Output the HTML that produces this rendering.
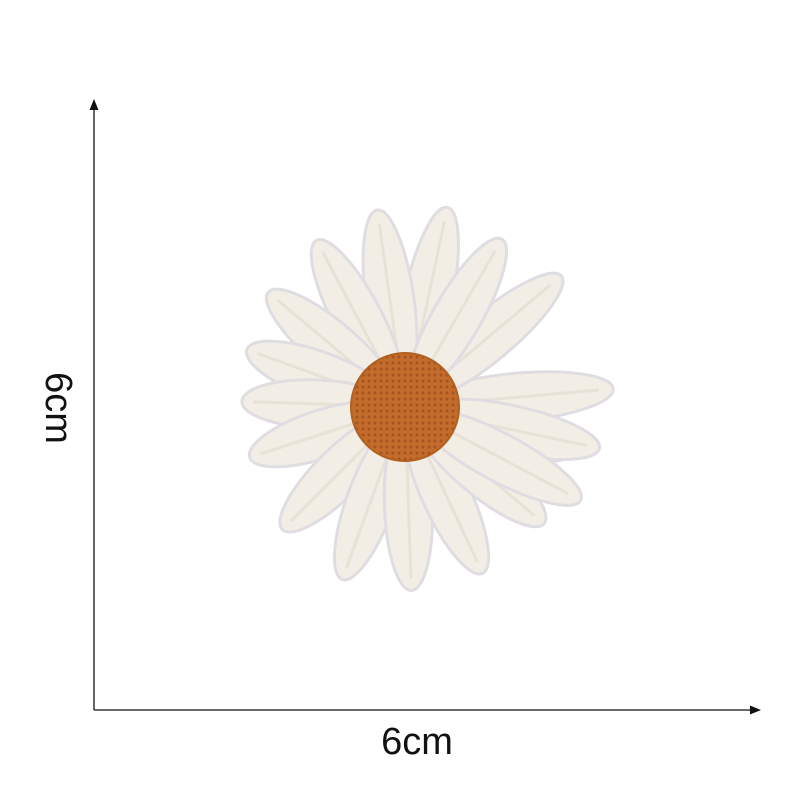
<!DOCTYPE html>
<html><head><meta charset="utf-8"><style>
html,body{margin:0;padding:0;background:#fff;width:800px;height:800px;overflow:hidden}
svg{display:block}
</style></head><body>
<svg width="800" height="800" viewBox="0 0 800 800" xmlns="http://www.w3.org/2000/svg">
<defs>
<pattern id="knit" width="6" height="6" patternUnits="userSpaceOnUse">
<rect width="6" height="6" fill="#c46c2c"/>
<circle cx="3" cy="3" r="1.6" fill="#a85520"/>
</pattern>
</defs>
<g>
<line x1="94" y1="108" x2="94" y2="710" stroke="#111" stroke-width="1.3"/>
<polygon points="94,99 89.5,110 98.5,110" fill="#111"/>
</g>
<g>
<line x1="94" y1="710" x2="752" y2="710" stroke="#111" stroke-width="1.3"/>
<polygon points="761,710 750,705.5 750,714.5" fill="#111"/>
</g>
<text x="417" y="754" text-anchor="middle" font-family="Liberation Sans, sans-serif" font-size="38" fill="#111">6cm</text>
<text transform="translate(46,408) rotate(90)" text-anchor="middle" font-family="Liberation Sans, sans-serif" font-size="38" fill="#111">6cm</text>
<g id="petals"></g>
<circle cx="405" cy="407" r="54" fill="url(#knit)" stroke="#b0601f" stroke-width="2"/>
</svg>
<script>
const petalAngles=[-78,-98,-118,-140,-160,-178,-198,-225,-250,-272,-295,-320,-345,-5,12,28,-40,-60];
const petalLengths=[200,195,185,175,165,160,160,170,180,180,180,178,170,205,195,195,200,190];
const g=document.getElementById('petals');
const cx=405,cy=407;
petalAngles.forEach((a,i)=>{
 const L=petalLengths[i];
 const e=document.createElementNS('http://www.w3.org/2000/svg','ellipse');
 
 
 e.setAttribute('cx',cx+L*0.55);e.setAttribute('cy',cy);
 e.setAttribute('rx',L*0.47);e.setAttribute('ry',24);
 e.setAttribute('transform','rotate('+a+' '+cx+' '+cy+')');
 e.setAttribute('fill','#f2eee6');e.setAttribute('stroke','#e0dde2');e.setAttribute('stroke-width','3');
 g.appendChild(e);
 const s=document.createElementNS('http://www.w3.org/2000/svg','line');
 
 
 s.setAttribute('x1',cx+L*0.2);s.setAttribute('y1',cy);s.setAttribute('x2',cx+L*0.95);s.setAttribute('y2',cy);
 s.setAttribute('transform','rotate('+a+' '+cx+' '+cy+')');
 s.setAttribute('stroke','#e8e2d6');s.setAttribute('stroke-width','3');
 g.appendChild(s);
});
</script>
</body></html>
